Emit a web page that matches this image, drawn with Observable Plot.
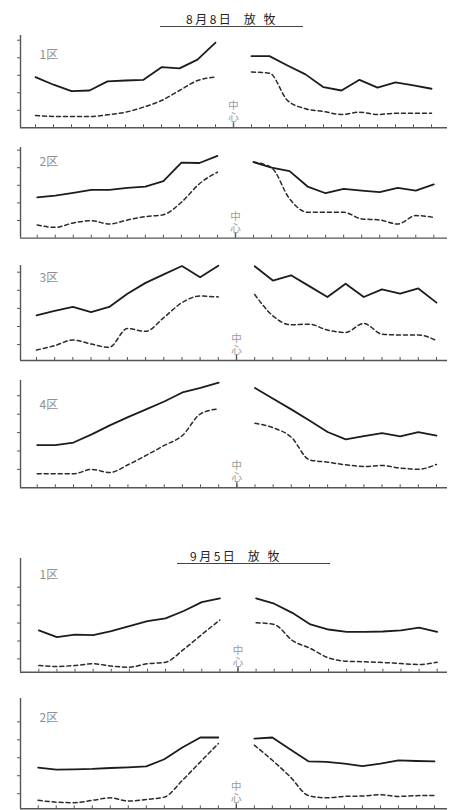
<!DOCTYPE html>
<html>
<head>
<meta charset="utf-8">
<script src="https://cdn.jsdelivr.net/npm/d3@7"></script>
<script src="https://cdn.jsdelivr.net/npm/@observablehq/plot@0.6"></script>
<style>
  html, body { margin: 0; padding: 0; background: #fff; }
  #page { position: relative; width: 451px; height: 810px; overflow: hidden; font-family: "Noto Sans CJK JP", sans-serif; }
  .panel { position: absolute; left: 0; }
  .title { position: absolute; font-size: 12px; line-height: 14px; color: #222; white-space: pre; letter-spacing: 2.5px; border-bottom: 1.2px solid #444; box-sizing: border-box; }
</style>
</head>
<body>
<div id="page"></div>
<script>
// Sampling positions: 11 on each side of the centre (0 = 中心)
const leftPositions = [-11, -10, -9, -8, -7, -6, -5, -4, -3, -2, -1];
const rightPositions = [1, 2, 3, 4, 5, 6, 7, 8, 9, 10, 11];
const xTicks = d3.range(-11, 12);
const yTicks = [1, 2, 3, 4, 5];

const groupTitles = ["8月8日  放 牧", "9月5日  放 牧"];
const plotLabels = ["1区", "2区", "3区", "4区", "1区", "2区"];
const centreLabel = "中心";

// Values per plot: left side (-11 … -1) followed by right side (1 … 11)
const aug1Solid  = [2.89, 2.46, 2.09, 2.13, 2.65, 2.70, 2.74, 3.46, 3.39, 3.89, 4.86,  4.09, 4.09, 3.56, 3.05, 2.32, 2.13, 2.74, 2.29, 2.59, 2.42, 2.23];
const aug1Dashed = [0.70, 0.65, 0.65, 0.65, 0.74, 0.89, 1.18, 1.56, 2.13, 2.70, 2.89,  3.18, 3.12, 1.56, 1.09, 0.93, 0.76, 0.89, 0.76, 0.83, 0.83, 0.83];
const aug2Solid  = [2.32, 2.42, 2.57, 2.74, 2.74, 2.86, 2.93, 3.24, 4.29, 4.27, 4.67,  4.32, 4.00, 3.81, 2.93, 2.55, 2.80, 2.70, 2.61, 2.86, 2.70, 3.05];
const aug2Dashed = [0.74, 0.61, 0.86, 0.99, 0.80, 1.03, 1.22, 1.33, 2.04, 3.09, 3.75,  4.32, 4.00, 2.23, 1.47, 1.47, 1.47, 1.09, 1.03, 0.80, 1.28, 1.18];
const aug3Solid  = [2.62, 2.86, 3.08, 2.79, 3.08, 3.81, 4.41, 4.88, 5.34, 4.72, 5.36,  5.33, 4.54, 4.83, 4.23, 3.63, 4.36, 3.63, 4.05, 3.81, 4.10, 3.32];
const aug3Dashed = [0.70, 0.94, 1.25, 1.03, 0.85, 1.89, 1.73, 2.49, 3.32, 3.68, 3.63,  3.77, 2.59, 2.09, 2.13, 1.80, 1.67, 2.17, 1.58, 1.53, 1.53, 1.22];
const aug4Solid  = [2.32, 2.32, 2.46, 2.90, 3.39, 3.84, 4.26, 4.69, 5.18, 5.43, 5.71,  5.42, 4.84, 4.26, 3.66, 3.03, 2.63, 2.81, 2.97, 2.79, 3.03, 2.84];
const aug4Dashed = [0.76, 0.76, 0.76, 1.00, 0.83, 1.25, 1.76, 2.30, 2.84, 4.02, 4.29,  3.51, 3.26, 2.75, 1.52, 1.39, 1.25, 1.16, 1.21, 1.07, 1.01, 1.27];
const sep1Solid  = [2.59, 2.22, 2.36, 2.33, 2.55, 2.83, 3.11, 3.26, 3.67, 4.17, 4.38,  4.38, 4.08, 3.57, 2.92, 2.64, 2.51, 2.51, 2.53, 2.59, 2.74, 2.51];
const sep1Dashed = [0.63, 0.58, 0.63, 0.73, 0.60, 0.54, 0.73, 0.82, 1.53, 2.36, 3.17,  3.02, 2.92, 2.03, 1.58, 1.06, 0.87, 0.84, 0.80, 0.74, 0.69, 0.82];
const sep2Solid  = [2.45, 2.34, 2.36, 2.38, 2.43, 2.47, 2.52, 2.92, 3.57, 4.13, 4.13,  4.07, 4.13, 3.46, 2.80, 2.77, 2.67, 2.54, 2.67, 2.86, 2.82, 2.80];
const sep2Dashed = [0.63, 0.53, 0.50, 0.63, 0.77, 0.59, 0.68, 0.81, 1.74, 2.77, 3.79,  3.70, 2.86, 1.93, 0.90, 0.77, 0.85, 0.87, 0.94, 0.85, 0.89, 0.90];

const positions = leftPositions.concat(rightPositions);
const rows = (values) => positions.map((pos, i) => ({pos, v: values[i], side: pos < 0 ? "left" : "right"}));

// Layout of each plot on the page (pixel placement, axis extent, y domain)
const layout = [
  {label: plotLabels[0], solid: aug1Solid, dashed: aug1Dashed, top: 35,    axis: 127.3, y0: 0,    y1: 5.27, x0: 35,   x1: 431,   labelDy: 15},
  {label: plotLabels[1], solid: aug2Solid, dashed: aug2Dashed, top: 146.7, axis: 237.3, y0: 0,    y1: 5.15, x0: 36.7, x1: 433.3, labelDy: 10},
  {label: plotLabels[2], solid: aug3Solid, dashed: aug3Dashed, top: 265,   axis: 360,   y0: 0.12, y1: 5.37, x0: 36,   x1: 436,   labelDy: 8},
  {label: plotLabels[3], solid: aug4Solid, dashed: aug4Dashed, top: 380,   axis: 487.3, y0: 0,    y1: 5.83, x0: 36.7, x1: 436,   labelDy: 20},
  {label: plotLabels[4], solid: sep1Solid, dashed: sep1Dashed, top: 558,   axis: 671.7, y0: 0.26, y1: 6.6,  x0: 38.3, x1: 436.7, labelDy: 12},
  {label: plotLabels[5], solid: sep2Solid, dashed: sep2Dashed, top: 698,   axis: 808.3, y0: 0.16, y1: 6.3,  x0: 37.7, x1: 434,   labelDy: 15}
];

const page = document.getElementById("page");

// Group headings with their underline
const headings = [
  {text: groupTitles[0], left: 160, top: 12, width: 143, pad: 26},
  {text: groupTitles[1], left: 177, top: 549, width: 153, pad: 13}
];
for (const h of headings) {
  const div = document.createElement("div");
  div.className = "title";
  div.textContent = h.text;
  Object.assign(div.style, {left: h.left + "px", top: h.top + "px", width: h.width + "px", paddingLeft: h.pad + "px", height: "15px"});
  page.appendChild(div);
}

const axisColor = "#555";
for (const p of layout) {
  const mt = 3, mb = 4, ml = 20, mr = 4, W = 451;
  const step = (p.x1 - p.x0) / 22;
  const xlo = -11 - (p.x0 - ml) / step;
  const xhi = 11 + ((W - mr) - p.x1) / step;
  const frameH = p.axis - p.top;
  const height = frameH + mt + mb;

  const chart = Plot.plot({
    width: W,
    height,
    marginLeft: ml,
    marginRight: mr,
    marginTop: mt,
    marginBottom: mb,
    style: {fontFamily: "'Noto Sans CJK JP', sans-serif", background: "transparent"},
    x: {domain: [xlo, xhi], axis: null},
    y: {domain: [p.y0, p.y1], axis: null},
    marks: [
      Plot.axisY(yTicks, {tickSize: 3, tickFormat: () => "", label: null, stroke: axisColor}),
      // short upward ticks along the baseline, a taller one at the centre
      Plot.tickX(xTicks, {x: (d) => d, insetTop: frameH - 3, stroke: axisColor, strokeWidth: 1}),
      Plot.tickX([0], {x: (d) => d, insetTop: frameH - 5, stroke: axisColor, strokeWidth: 1.4}),
      Plot.ruleX([xlo], {stroke: axisColor, strokeWidth: 1.4}),
      Plot.ruleY([p.y0], {stroke: axisColor, strokeWidth: 1.4}),
      Plot.line(rows(p.dashed), {x: "pos", y: "v", z: "side", stroke: "#2a2a2a", strokeWidth: 1.5, strokeDasharray: "4,3", curve: "monotone-x"}),
      Plot.line(rows(p.solid), {x: "pos", y: "v", z: "side", stroke: "#1c1c1c", strokeWidth: 1.8}),
      Plot.text([{pos: 0, v: p.y0, t: centreLabel}], {x: "pos", y: "v", text: "t", dy: -7, textAnchor: "end", fontSize: 10.5, fill: "#9a9a9a"}),
      Plot.text([p.label], {frameAnchor: "top-left", textAnchor: "start", dx: 19, dy: p.labelDy, fontSize: 12, fill: "#8f8f8f"})
    ]
  });
  // set the centre label upright in vertical writing
  chart.querySelectorAll("text").forEach((t) => {
    if (t.textContent !== centreLabel) return;
    t.setAttribute("writing-mode", "tb");
    t.style.writingMode = "vertical-rl";
    t.style.textOrientation = "upright";
    t.style.letterSpacing = "1.5px";
    t.removeAttribute("dy");
  });
  chart.classList.add("panel");
  chart.style.top = (p.top - mt) + "px";
  page.appendChild(chart);
}
</script>
</body>
</html>
